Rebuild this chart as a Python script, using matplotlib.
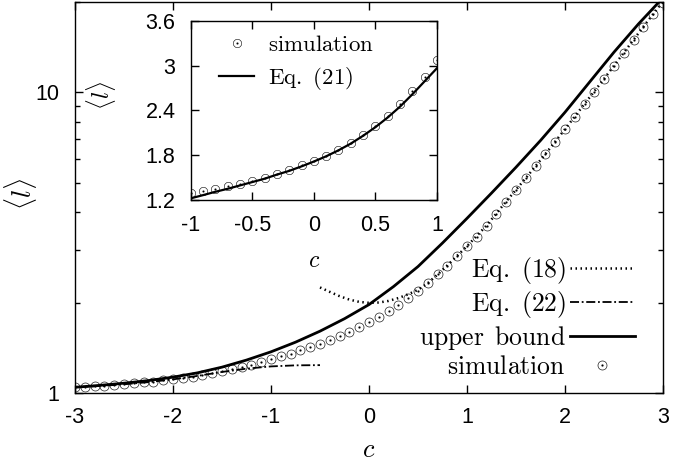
import numpy as np
import matplotlib
matplotlib.use('Agg')
import matplotlib.pyplot as plt
from matplotlib.ticker import FixedLocator, FixedFormatter, NullFormatter, LogLocator

plt.rcParams['mathtext.fontset'] = 'cm'
plt.rcParams['font.family'] = ['Liberation Sans', 'DejaVu Sans']

# simulation, c = -3 ... 3 step 0.1
c_sim = np.linspace(-3, 3, 61)
sim_l = [1.045, 1.049, 1.054, 1.059, 1.064, 1.070, 1.077, 1.084, 1.092, 1.101,
         1.110, 1.122, 1.134, 1.148, 1.164, 1.181, 1.200, 1.221, 1.244, 1.270,
         1.298, 1.325, 1.352, 1.387, 1.418, 1.459, 1.499, 1.552, 1.600, 1.664,
         1.722, 1.793, 1.873, 1.963, 2.070, 2.190, 2.325, 2.480, 2.655, 2.850,
         3.074, 3.30, 3.60, 3.95, 4.33, 4.73, 5.18, 5.68, 6.22, 6.84,
         7.53, 8.30, 9.14, 10.07, 11.09, 12.25, 13.52, 14.93, 16.52, 18.24,
         19.8]

# upper bound, c = -3 ... 3 step 0.25
c_ub = np.linspace(-3, 3, 25)
ub_l = [1.045, 1.060, 1.078, 1.100, 1.129, 1.167, 1.219, 1.287, 1.371, 1.476,
        1.606, 1.767, 1.969, 2.26, 2.635, 3.156, 3.812, 4.626, 5.639, 6.921,
        8.594, 10.82, 13.62, 16.91, 20.66]

# Eq. (18)
eq18_c = [-0.5, -0.4, -0.3, -0.2, -0.1, 0.0, 0.1, 0.2, 0.3, 0.4, 0.5, 0.6, 0.7, 0.8,
          1.0, 1.2, 1.4, 1.6, 1.8, 2.0, 2.2, 2.4, 2.6, 2.8, 3.0]
eq18_l = [2.245, 2.17, 2.10, 2.045, 2.01, 1.995, 2.0, 2.025, 2.07, 2.13, 2.205, 2.32, 2.48, 2.66,
          3.08, 3.61, 4.34, 5.19, 6.24, 7.55, 9.17, 11.12, 13.56, 16.56, 20.1]

# Eq. (22)
eq22_c = [-3.0, -2.75, -2.5, -2.25, -2.0, -1.75, -1.5, -1.25, -1.0, -0.75, -0.5]
eq22_l = [1.045, 1.055, 1.069, 1.087, 1.11, 1.14, 1.175, 1.205, 1.226, 1.236, 1.238]

# inset: Eq. (21), c = -1 ... 1 step 0.1
c_in = np.linspace(-1, 1, 21)
eq21_l = [1.222, 1.265, 1.31, 1.35, 1.395, 1.44, 1.485, 1.54, 1.59, 1.65, 1.715,
          1.785, 1.865, 1.955, 2.06, 2.175, 2.305, 2.45, 2.615, 2.79, 2.965]

W, H = 674, 468
fig = plt.figure(figsize=(W / 100, H / 100), dpi=100)

ax = fig.add_axes([75 / W, 1 - 393 / H, 588 / W, 391 / H])
odot = r'$\odot$'
ax.plot(eq18_c, eq18_l, color='k', lw=1.8, ls=(0, (0.6, 1.4)), label=r'$\mathrm{Eq.\ (18)}$')
ax.plot(eq22_c, eq22_l, color='k', lw=1.3, ls=(0, (5, 1.5, 1, 1.5)), label=r'$\mathrm{Eq.\ (22)}$')
ax.plot(c_ub, ub_l, color='k', lw=2.0, label=r'$\mathrm{upper\ \,bound}$')
ax.plot(c_sim, sim_l, ls='none', marker=odot, ms=6.8, mew=0.1, color='k',
        label=r'$\mathrm{simulation}$')

ax.set_yscale('log')
ax.set_xlim(-3, 3)
ax.set_ylim(1, 20)
ax.set_xticks([-3, -2, -1, 0, 1, 2, 3])
ax.set_xticklabels(['-3', '-2', '-1', '0', '1', '2', '3'])
ax.yaxis.set_major_locator(FixedLocator([1, 10]))
ax.yaxis.set_major_formatter(FixedFormatter(['1', '10']))
ax.yaxis.set_minor_locator(LogLocator(base=10, subs=np.arange(2, 10)))
ax.yaxis.set_minor_formatter(NullFormatter())
ax.tick_params(which='both', direction='in', top=True, right=True, labelsize=15.5)
ax.tick_params(which='major', length=6, width=1)
ax.tick_params(which='minor', length=3.5, width=1)
ax.tick_params(axis='x', pad=10)
ax.tick_params(axis='y', pad=11)
for s in ax.spines.values():
    s.set_linewidth(1.0)
ax.set_xlabel(r'$c$', fontsize=19)
ax.set_ylabel(r'$\langle l \rangle$', fontsize=19)
ax.xaxis.set_label_coords(0.5, -0.115)
ax.yaxis.set_label_coords(-0.062, 0.51)

ax.legend(loc='lower right', bbox_to_anchor=(0.952, 0.035), frameon=False,
          markerfirst=False, fontsize=18.5, handlelength=2.53, handletextpad=0.15,
          borderpad=0, borderaxespad=0, labelspacing=0.14)

# inset
axi = fig.add_axes([190.7 / W, 1 - 200 / H, 246.3 / W, 179.3 / H])
axi.plot(c_in, sim_l[20:41], ls='none', marker=odot, ms=6.3, mew=0.1, color='k',
         label=r'$\mathrm{simulation}$')
axi.plot(c_in, eq21_l, color='k', lw=1.6, label=r'$\mathrm{Eq.\ (21)}$')
axi.set_xlim(-1, 1)
axi.set_ylim(1.2, 3.6)
axi.set_xticks([-1, -0.5, 0, 0.5, 1])
axi.set_xticklabels(['-1', '-0.5', '0', '0.5', '1'])
axi.set_yticks([1.2, 1.8, 2.4, 3, 3.6])
axi.set_yticklabels(['1.2', '1.8', '2.4', '3', '3.6'])
axi.tick_params(which='both', direction='in', top=True, right=True, labelsize=15.5,
                length=6, width=1)
axi.tick_params(axis='x', pad=11)
axi.tick_params(axis='y', pad=11)
for s in axi.spines.values():
    s.set_linewidth(1.0)
axi.set_xlabel(r'$c$', fontsize=17)
axi.set_ylabel(r'$\langle l \rangle$', fontsize=17)
axi.xaxis.set_label_coords(0.5, -0.28)
axi.yaxis.set_label_coords(-0.295, 0.585)
axi.legend(loc='upper left', bbox_to_anchor=(0.115, 0.93), frameon=False,
           fontsize=16.5, handlelength=1.53, handletextpad=0.6,
           borderpad=0, borderaxespad=0, labelspacing=0.4)

fig.savefig('out.png', dpi=100)
